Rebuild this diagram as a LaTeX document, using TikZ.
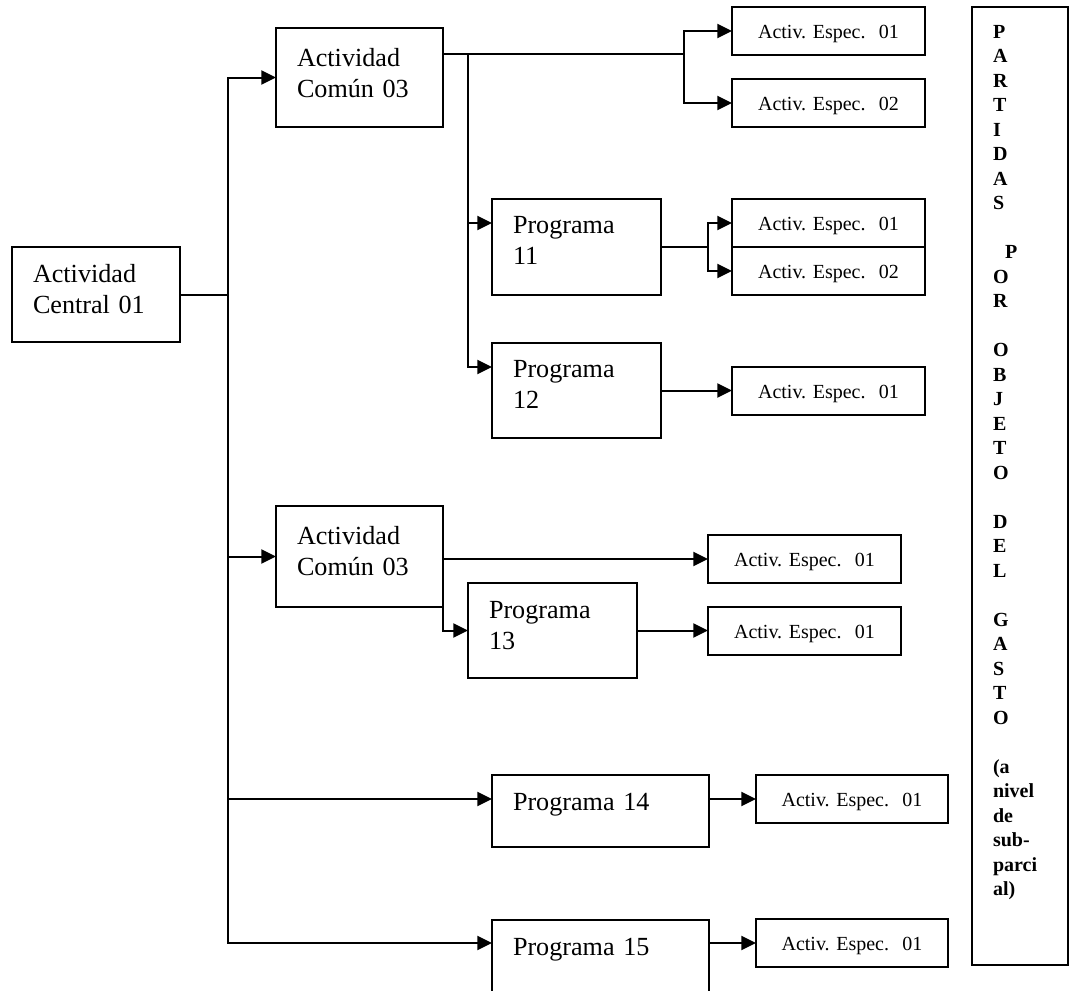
\documentclass[tikz,border=0pt]{standalone}
\usepackage{fontspec}
\setmainfont{Liberation Serif}
\usetikzlibrary{arrows.meta}
\frenchspacing
\begin{document}
\begin{tikzpicture}[x=0.75pt,y=-0.75pt,line width=1.5pt,
  boxbase/.style={draw, line width=1.5pt, inner sep=0pt, outer sep=0pt, anchor=north west},
  big/.style={boxbase, font=\fontsize{19.6pt}{23.25pt}\selectfont, align=left},
  wide/.style={big, minimum width=126.75pt, text width=95.25pt},
  activ/.style={boxbase, font=\fontsize{15pt}{18pt}\selectfont, minimum width=144.75pt,
    text width=144.75pt, align=center, text height=23.25pt, text depth=12.75pt},
  arr/.style={-{Triangle[length=11pt,width=10.5pt]}},
]
\useasboundingbox (0,0) rectangle (1072,990);
\fill[white] (0,0) rectangle (1072,990);
\clip (0,0) rectangle (1072,990);

% left column
\node[big, minimum width=126pt, text width=94.5pt, text height=26.25pt, text depth=45pt]
  (cen) at (12,247) {Actividad\\Central 01};

% first common activity and its programmes
\node[big, minimum width=125.25pt, text width=93.75pt, text height=28.5pt, text depth=45.75pt]
  (ac1) at (276,28) {Actividad\\Común 03};
\node[activ] (e1a) at (732,7) {Activ. Espec.\ \ 01};
\node[activ] (e1b) at (732,79) {Activ. Espec.\ \ 02};

\node[wide, text height=25.5pt, text depth=46.5pt] (p11) at (492,199) {Programa\\11};
\node[activ] (e11a) at (732,199) {Activ. Espec.\ \ 01};
\node[activ] (e11b) at (732,247) {Activ. Espec.\ \ 02};

\node[wide, text height=25.5pt, text depth=45.75pt] (p12) at (492,343) {Programa\\12};
\node[activ] (e12) at (732,367) {Activ. Espec.\ \ 01};

% second common activity
\node[big, minimum width=125.25pt, text width=93.75pt, text height=28.5pt, text depth=47.25pt]
  (ac2) at (276,506) {Actividad\\Común 03};
\node[activ] (e2) at (708,535) {Activ. Espec.\ \ 01};

\node[wide, text height=26.25pt, text depth=45pt] (p13) at (468,583) {Programa\\13};
\node[activ] (e13) at (708,607) {Activ. Espec.\ \ 01};

% single-line programmes
\node[big, minimum width=162.75pt, text width=131.25pt, text height=26.25pt, text depth=27.75pt]
  (p14) at (492,775) {Programa 14};
\node[activ, minimum width=144pt, text width=144pt] (e14) at (756,775) {Activ. Espec.\ \ 01};

\node[big, minimum width=162.75pt, text width=131.25pt, text height=26.25pt, text depth=27.75pt]
  (p15) at (492,920) {Programa 15};
\node[activ, minimum width=144pt, text width=144pt] (e15) at (756,919) {Activ. Espec.\ \ 01};

% right-hand column
\node[boxbase, minimum width=72pt, minimum height=718.5pt] (part) at (972,7) {};
\node[anchor=north west, inner sep=0pt, text width=60pt, align=left,
  font=\fontsize{15pt}{18.375pt}\selectfont\bfseries, text height=9.75pt]
  (parttxt) at (992,24)
  {P\\A\\R\\T\\I\\D\\A\\S\\~\\\hspace*{9pt}P\\O\\R\\~\\O\\B\\J\\E\\T\\O\\~\\D\\E\\L\\~\\G\\A\\S\\T\\O\\~\\(a\\nivel\\de\\sub-\\parci\\al)};

% connectors
\coordinate (tr) at (228,295);
\draw (cen.east) -- (cen.east -| tr);
\draw[arr] (cen.east -| tr) |- (ac1.west);
\draw[arr] (cen.east -| tr) |- (ac2.west);
\draw[arr] (cen.east -| tr) |- (p14.west |- e14.west);
\draw[arr] (cen.east -| tr) |- (p15.west |- e15.west);

\coordinate (j1) at (684,54);
\coordinate (j2) at (468,54);
\draw ([yshift=-19.5pt]ac1.north east) -- (j1);
\draw[arr] (j1) |- (e1a.west);
\draw[arr] (j1) |- (e1b.west);
\draw[arr] (j2) |- ([yshift=-18pt]p11.north west);
\draw[arr] (j2) |- ([yshift=-18pt]p12.north west);

\coordinate (j3) at (708,247);
\draw (p11.east) -- (j3);
\draw[arr] (j3) |- (e11a.west);
\draw[arr] (j3) |- (e11b.west);

\draw[arr] (p12.east) -- (p12.east -| e12.west);

\draw[arr] (ac2.east |- e2.west) -- (e2.west);
\draw[arr] (ac2.south east) |- (p13.west);
\draw[arr] (p13.east) -- (p13.east -| e13.west);

\draw[arr] (p14.east |- e14.west) -- (e14.west);
\draw[arr] (p15.east |- e15.west) -- (e15.west);
\end{tikzpicture}
\end{document}
